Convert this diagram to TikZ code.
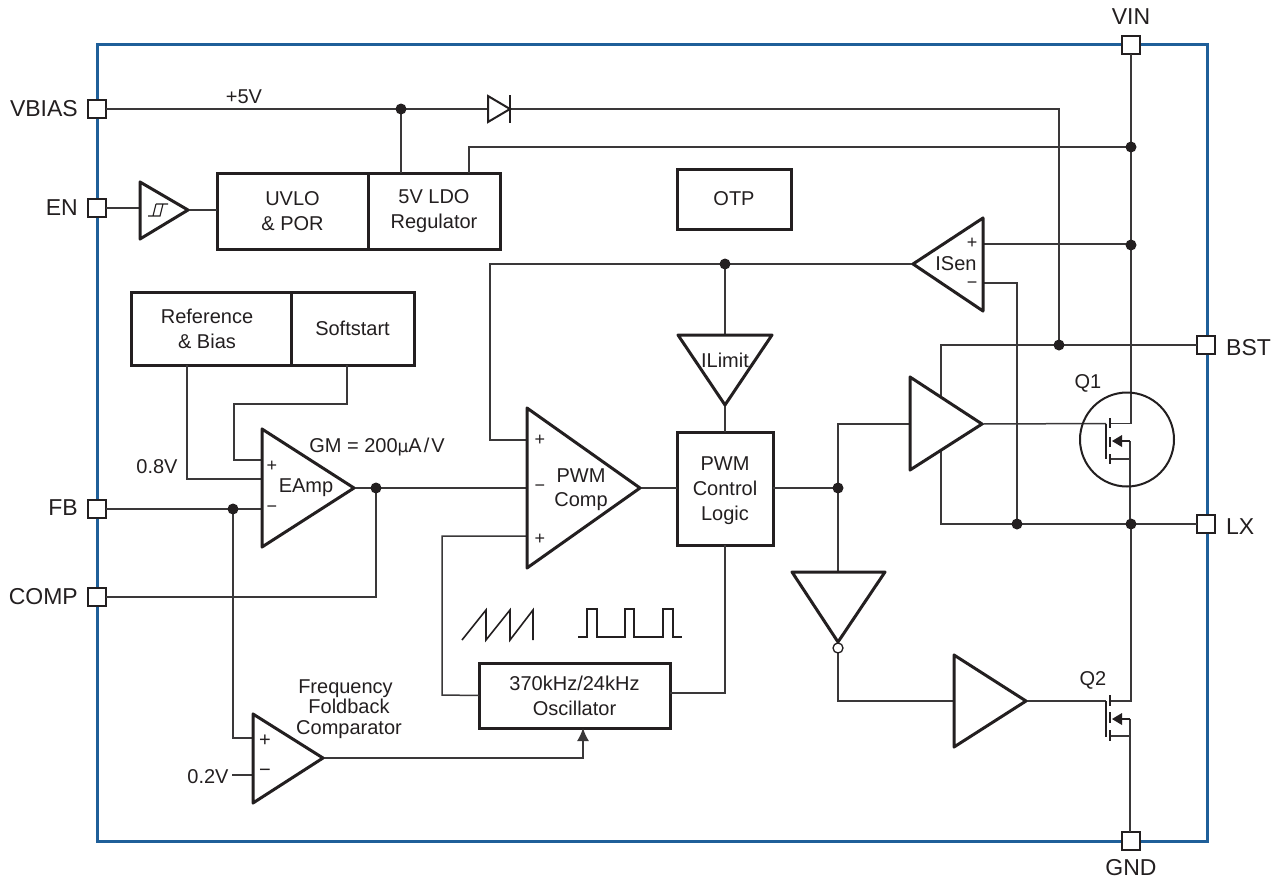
\documentclass[tikz,border=0pt]{standalone}
\usepackage{fontspec}
\setmainfont{Liberation Sans}
\definecolor{ink}{HTML}{231F20}
\definecolor{wirec}{HTML}{3A3839}
\definecolor{frame}{HTML}{1F5F99}
\usetikzlibrary{arrows.meta}
\tikzset{
  wire/.style={draw=wirec,line width=1.5pt},
  heavy/.style={draw=ink,line width=3pt,line join=round,fill=white},
  mosbar/.style={draw=ink,line width=1.3pt},
  blockbox/.style={draw=ink,line width=3pt,fill=white,inner sep=0pt,outer sep=0pt,minimum width=#1,align=center,text=ink,font=\fontsize{20}{25}\selectfont},
  pin/.style={draw=ink,line width=1.5pt,fill=white,inner sep=0pt,outer sep=0pt,minimum size=18pt},
  pinlabel/.style={text=ink,font=\fontsize{23}{27}\selectfont,inner sep=0pt},
  lab/.style={text=ink,font=\fontsize{20}{25}\selectfont,inner sep=0pt,align=center},
  sign/.style={text=ink,font=\fontsize{18}{20}\selectfont,inner sep=0pt},
  junction/.style={circle,fill=ink,inner sep=0pt,minimum size=11pt},
  bubble/.style={circle,draw=ink,line width=1.3pt,fill=white,inner sep=0pt,minimum size=10pt},
  waveform/.style={draw=ink,line width=1.6pt,line join=miter}
}
\begin{document}
\begin{tikzpicture}[x=1pt,y=-1pt]
\useasboundingbox (0,0) rectangle (1278,879);
\fill[white] (0,0) rectangle (1278,879);
% frame
\draw[frame,line width=3pt] (97,44) rectangle (1207,841);

% junctions as coordinates first
\coordinate (jA) at (401,109);
\coordinate (jB) at (1059,345);
\coordinate (jC) at (1131,147);
\coordinate (jD) at (1131,245);
\coordinate (jE) at (725,264);
\coordinate (jF) at (376,488);
\coordinate (jG) at (233,509);
\coordinate (jH) at (838,488);
\coordinate (jI) at (1017,524);
\coordinate (jJ) at (1131,524);

% pins
\node[pin] (VIN) at (1131,45) {};
\node[pin] (GND) at (1131,841) {};
\node[pin] (VBIAS) at (97,109) {};
\node[pin] (EN) at (97,208) {};
\node[pin] (FB) at (97,509) {};
\node[pin] (COMP) at (97,597) {};
\node[pin] (BST) at (1206,345) {};
\node[pin] (LX) at (1206,524) {};
\node[pinlabel] (lVIN) at (1131,17) {VIN};
\node[pinlabel] (lGND) at (1131,867.5) {GND};
\node[pinlabel,anchor=east] (lVBIAS) at (78,109) {VBIAS};
\node[pinlabel,anchor=east] (lEN) at (78,208) {EN};
\node[pinlabel,anchor=east] (lFB) at (78,508) {FB};
\node[pinlabel,anchor=east] (lCOMP) at (78,597) {COMP};
\node[pinlabel,anchor=west] (lBST) at (1226,348) {BST};
\node[pinlabel,anchor=west] (lLX) at (1226,527) {LX};

% blocks
\node[blockbox=151pt,minimum height=76pt] (uvlo) at (292.5,211) {UVLO\\\& POR};
\node[blockbox=132pt,minimum height=76pt] (ldo) at (434,211) {5V LDO\\Regulator};
\node[blockbox=114pt,minimum height=60pt] (otp) at (734,199) {OTP};
\node[blockbox=160pt,minimum height=73pt] (ref) at (211,328.5) {};
\node[lab] (reftext) at (207,329) {Reference\\\& Bias};
\node[blockbox=123pt,minimum height=73pt] (soft) at (352.5,328.5) {Softstart};
\node[blockbox=96pt,minimum height=113pt] (logic) at (725,488.5) {};
\node[lab] (logictext) at (725,491) {PWM\\Control\\Logic};
\node[blockbox=191pt,minimum height=65pt] (osc) at (574.5,695.5) {370kHz/24kHz\\Oscillator};

% triangle vertices
\coordinate (enT) at (140,182); \coordinate (enB) at (140,239); \coordinate (enA) at (188,210);
\coordinate (isT) at (983,218); \coordinate (isB) at (983,311); \coordinate (isA) at (913,264);
\coordinate (ilL) at (678,335); \coordinate (ilR) at (772,335); \coordinate (ilA) at (725,405);
\coordinate (eaT) at (262,429); \coordinate (eaB) at (262,547); \coordinate (eaA) at (354,488);
\coordinate (pcT) at (527,408); \coordinate (pcB) at (527,568); \coordinate (pcA) at (640,488);
\coordinate (hdT) at (910,377); \coordinate (hdB) at (910,470); \coordinate (hdA) at (982,424);
\coordinate (ldT) at (954,655); \coordinate (ldB) at (954,747); \coordinate (ldA) at (1026,701);
\coordinate (ivL) at (792,572); \coordinate (ivR) at (885,572); \coordinate (ivA) at (838,642);
\coordinate (ffT) at (253,714); \coordinate (ffB) at (253,803); \coordinate (ffA) at (323,758);

% MOS coordinates
\coordinate (q1g) at (1106,423.5); \coordinate (q1d) at (1110,423.5); \coordinate (q1s) at (1110,459);
\coordinate (q2g) at (1106,701); \coordinate (q2d) at (1110,701); \coordinate (q2s) at (1110,736);

% wires
\draw[wire] (VBIAS.east) -- (1059,109) -- (jB);
\draw[wire] (jA) -- (jA |- uvlo.north);
\draw[wire] (469,173) |- (jC);
\draw[wire] (VIN.south) -- (jC) -- (jD) -- (1131,423.5) -- (q1d);
\draw[wire] (EN.east) -- (140,208);
\draw[wire] (enA) -- (enA -| uvlo.west);
\draw[wire] (BST.west) -- (941,345) -- (941,400);
\draw[wire] (941,447) -- (941,524) -- (LX.west);
\draw[wire] (983,244) -- (1131,244);
\draw[wire] (983,283) -- (1017,283) -- (jI);
\draw[wire] (isA) -- (490,264) -- (490,440) -- (527,440);
\draw[wire] (jE) -- (725,335);
\draw[wire] (ilA) -- (725,432);
\draw[wire] (187,365) -- (187,479) -- (262,479);
\draw[wire] (347,365) -- (347,404) -- (234,404) -- (234,460) -- (262,460);
\draw[wire] (FB.east) -- (262,509);
\draw[wire] (jG) -- (233,738) -- (253,738);
\draw[wire] (COMP.east) -- (376,597) -- (jF);
\draw[wire] (eaA) -- (527,488);
\draw[wire] (pcA) -- (logic.west |- pcA);
\draw[wire] (logic.east |- jH) -- (jH);
\draw[wire] (527,536) -- (442,536) -- (442,695) -- (osc.west);
\draw[wire] (725,545) -- (725,693) -- (670,693);
\draw[wire,-{Latex[length=13pt,width=12pt]}] (ffA) -- (583,758) -- (583,728);
\draw[wire] (232,775) -- (253,775);
\draw[wire] (910,424) -- (838,424) -- (jH) -- (838,572);
\draw[wire] (838,648) -- (838,701) -- (954,701);
\draw[wire] (hdA) -- (q1g);
\draw[wire] (ldA) -- (q2g);
\draw[wire] (q1s) -- (1130,459) -- (1130,441);
\draw[wire] (q2d) -- (1131,701) -- (jJ);
\draw[wire] (q1s) -- (1130,459) -- (1130,524);
\draw[wire] (q2s) -- (1130,736) -- (1130,719);
\draw[wire] (1130,736) -- (1130,832);
\draw[wire] (jJ) -- (jI);

% triangles
\draw[heavy] (enT) -- (enA) -- (enB) -- cycle;
\draw[heavy] (isT) -- (isA) -- (isB) -- cycle;
\draw[heavy] (ilL) -- (ilR) -- (ilA) -- cycle;
\draw[heavy] (eaT) -- (eaA) -- (eaB) -- cycle;
\draw[heavy] (pcT) -- (pcA) -- (pcB) -- cycle;
\draw[heavy] (hdT) -- (hdA) -- (hdB) -- cycle;
\draw[heavy] (ldT) -- (ldA) -- (ldB) -- cycle;
\draw[heavy] (ivL) -- (ivR) -- (ivA) -- cycle;
\draw[heavy] (ffT) -- (ffA) -- (ffB) -- cycle;
\node[bubble] (ivb) at (838,648) {};

% Schmitt symbol
\draw[ink,line width=1.2pt] (148,216) -- (160,216) -- (163,204) -- (168,204) (156,204) -- (163,204) (153,216) -- (156,204);

% diode
\draw[ink,line width=2pt,fill=white,line join=miter] (488,96) -- (510,109) -- (488,122) -- cycle;
\draw[ink,line width=1.8pt] (510,95) -- (510,123);

% Q1
\draw[ink,line width=2pt] (1127,439.5) circle (47);
\draw[mosbar] (q1g) -- (1106,459);
\draw[mosbar] (1110,418) -- (1110,428) (1110,437) -- (1110,447) (1110,454) -- (1110,464);
\draw[ink,line width=2pt] (1130,441) -- (1120,441);
\fill[ink] (1112,441) -- (1122,435) -- (1122,447) -- cycle;
% Q2
\draw[mosbar] (q2g) -- (1106,737);
\draw[mosbar] (1110,695) -- (1110,706) (1110,712) -- (1110,723) (1110,730) -- (1110,741);
\draw[ink,line width=2pt] (1130,719) -- (1120,719);
\fill[ink] (1112,719) -- (1122,713) -- (1122,725) -- cycle;

% dots
\foreach \j in {jA,jB,jC,jD,jE,jF,jG,jH,jI,jJ} \node[junction] at (\j) {};

% waveforms
\draw[waveform] (462,640) -- (486,610) -- (486,640) -- (510,610) -- (510,640) -- (533,610) -- (533,640);
\draw[waveform] (578,637) -- (587,637) -- (587,609) -- (597,609) -- (597,637) -- (625,637) -- (625,609) -- (634,609) -- (634,637) -- (663,637) -- (663,609) -- (673,609) -- (673,637) -- (682,637);

% labels
\node[lab] (l5v) at (244,97) {+5V};
\node[lab] (lQ1) at (1088,383) {Q1};
\node[lab] (lQ2) at (1093,680) {Q2};
\node[lab] (lgm) at (377,447) {GM = 200{\fontspec{DejaVu Sans}\fontsize{17}{20}\selectfont µ}A\kern2pt/\kern2pt V};
\node[lab,font=\fontsize{20}{20.5}\selectfont] (lff) at (349,709) {Frequency\hspace*{7pt}\\Foldback\hspace*{1pt}\\Comparator};
\node[lab] (l08) at (157,467) {0.8V};
\node[lab] (l02) at (208,777) {0.2V};
\node[lab,font=\fontsize{20}{24}\selectfont] (lpwm) at (581,490) {PWM\\Comp};
\node[lab] (lil) at (725,360) {ILimit};
\node[lab] (lis) at (956,264) {ISen};
\node[lab] (lea) at (306,488) {EAmp};
\node[sign] at (272,466) {+};
\node[sign] at (272,509) {−};
\node[sign] at (540,440) {+};
\node[sign] at (540,488) {−};
\node[sign] at (540,539) {+};
\node[sign] at (972,243) {+};
\node[sign] at (972,285) {−};
\node[sign,font=\fontsize{20}{22}\selectfont] at (265,741) {+};
\node[sign,font=\fontsize{20}{22}\selectfont] at (265,773) {−};
\end{tikzpicture}
\end{document}
